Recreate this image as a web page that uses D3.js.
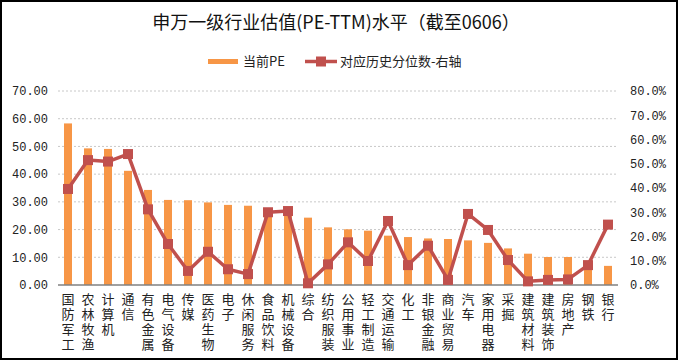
<!DOCTYPE html>
<html>
<head>
<meta charset="utf-8">
<script src="https://cdn.jsdelivr.net/npm/d3@7"></script>
<style>
  body { margin: 0; background: #fff; }
  svg { display: block; }
</style>
</head>
<body>
<div id="chart"></div>
<script>
// chart data
const industries = ["国防军工","农林牧渔","计算机","通信","有色金属","电气设备","传媒","医药生物","电子","休闲服务",
  "食品饮料","机械设备","综合","纺织服装","公用事业","轻工制造","交通运输","化工","非银金融","商业贸易",
  "汽车","家用电器","采掘","建筑材料","建筑装饰","房地产","钢铁","银行"];
const peValues = [58.3,49.3,49.1,41.2,34.3,30.7,30.6,29.8,28.9,28.6,
  27.0,26.5,24.3,20.8,20.1,19.6,17.8,17.3,16.8,16.6,
  16.1,15.2,13.2,11.3,10.1,10.1,8.5,6.9];
const pctValues = [39.6,51.5,50.9,54.0,31.2,16.9,5.8,13.7,6.5,4.5,
  30.0,30.5,0.7,8.5,17.6,9.9,26.4,8.2,16.2,2.1,
  29.3,22.7,10.3,1.5,2.1,2.3,8.2,24.9];
const leftTicks = [0,10,20,30,40,50,60,70];
const rightTicks = [0,10,20,30,40,50,60,70,80];

const svgWidth = 679;
const svgHeight = 362;
const plot = {left: 58, right: 618, top: 91, bottom: 285};

const barColor = "#F79646";
const lineColor = "#C0504D";
const monoFont = "'Liberation Mono', 'DejaVu Sans Mono', monospace";
const cjkFont = "'Noto Sans CJK SC', sans-serif";

let svg = d3.select("#chart")
  .append("svg")
  .attr("width", svgWidth)
  .attr("height", svgHeight);

svg.append("rect")
  .attr("x", 0).attr("y", 0)
  .attr("width", svgWidth).attr("height", svgHeight)
  .attr("fill", "#fff");

// scales
const x = d3.scaleBand()
  .domain(industries)
  .range([plot.left, plot.right])
  .paddingInner(0.6)
  .paddingOuter(0.3);

const yLeft = d3.scaleLinear().domain([0, 70]).range([plot.bottom, plot.top]);
const yRight = d3.scaleLinear().domain([0, 80]).range([plot.bottom, plot.top]);

// gridlines
svg.append("g")
  .selectAll("line")
  .data(leftTicks.filter(d => d > 0))
  .enter()
  .append("line")
  .attr("x1", plot.left).attr("x2", plot.right)
  .attr("y1", d => yLeft(d)).attr("y2", d => yLeft(d))
  .attr("stroke", "#c8c8c8")
  .attr("stroke-width", 1)
  .attr("stroke-dasharray", "2,2");

// left axis
const leftAxis = svg.append("g")
  .attr("transform", `translate(${plot.left}, 0)`)
  .call(d3.axisLeft(yLeft).tickValues(leftTicks).tickSize(0).tickPadding(10).tickFormat(d3.format(".2f")));
leftAxis.select(".domain").remove();
leftAxis.selectAll("text")
  .attr("font-family", monoFont)
  .attr("font-size", "12px")
  .attr("fill", "#222");

// right axis
const rightAxis = svg.append("g")
  .attr("transform", `translate(${plot.right}, 0)`)
  .call(d3.axisRight(yRight).tickValues(rightTicks).tickSize(0).tickPadding(12).tickFormat(d => d.toFixed(1) + "%"));
rightAxis.select(".domain").remove();
rightAxis.selectAll("text")
  .attr("font-family", monoFont)
  .attr("font-size", "12px")
  .attr("fill", "#222");

// bars
svg.append("g")
  .selectAll("rect")
  .data(industries)
  .enter()
  .append("rect")
  .attr("x", d => x(d))
  .attr("width", x.bandwidth())
  .attr("y", (d, i) => yLeft(peValues[i]))
  .attr("height", (d, i) => plot.bottom - yLeft(peValues[i]))
  .attr("fill", barColor);

// x axis line
svg.append("line")
  .attr("x1", plot.left).attr("x2", plot.right)
  .attr("y1", plot.bottom).attr("y2", plot.bottom)
  .attr("stroke", "#808080")
  .attr("stroke-width", 1.5);

// percentile line
const cx = d => x(d) + x.bandwidth() / 2;
const line = d3.line()
  .x((d, i) => cx(industries[i]))
  .y(d => yRight(d));

svg.append("path")
  .datum(pctValues)
  .attr("d", line)
  .attr("fill", "none")
  .attr("stroke", lineColor)
  .attr("stroke-width", 3.5)
  .attr("stroke-linejoin", "round");

svg.append("g")
  .selectAll("rect")
  .data(pctValues)
  .enter()
  .append("rect")
  .attr("x", (d, i) => cx(industries[i]) - 5)
  .attr("y", d => yRight(d) - 5)
  .attr("width", 10)
  .attr("height", 10)
  .attr("fill", lineColor);

// category labels written top to bottom
svg.append("g")
  .selectAll("text")
  .data(industries)
  .enter()
  .append("text")
  .attr("x", d => cx(d))
  .attr("y", 293)
  .attr("style", "writing-mode: vertical-rl; letter-spacing: 2px")
  .attr("font-family", cjkFont)
  .attr("font-size", "13px")
  .attr("fill", "#222")
  .text(d => d);

// title
svg.append("text")
  .attr("x", 336)
  .attr("y", 29)
  .attr("text-anchor", "middle")
  .attr("font-family", cjkFont)
  .attr("font-size", "18px")
  .attr("fill", "#111")
  .text("申万一级行业估值(PE-TTM)水平（截至0606）");

// legend
const legend = svg.append("g");
legend.append("rect")
  .attr("x", 208).attr("y", 59)
  .attr("width", 30).attr("height", 5)
  .attr("fill", barColor);
legend.append("text")
  .attr("x", 243).attr("y", 66)
  .attr("font-family", cjkFont)
  .attr("font-size", "13px")
  .attr("fill", "#222")
  .text("当前PE");
legend.append("line")
  .attr("x1", 305).attr("x2", 337)
  .attr("y1", 61.5).attr("y2", 61.5)
  .attr("stroke", lineColor)
  .attr("stroke-width", 3.5);
legend.append("rect")
  .attr("x", 316).attr("y", 56.5)
  .attr("width", 10).attr("height", 10)
  .attr("fill", lineColor);
legend.append("text")
  .attr("x", 340).attr("y", 66)
  .attr("font-family", cjkFont)
  .attr("font-size", "13px")
  .attr("fill", "#222")
  .text("对应历史分位数-右轴");

// outer frame
svg.append("rect")
  .attr("x", 1).attr("y", 1)
  .attr("width", 676).attr("height", 358)
  .attr("fill", "none")
  .attr("stroke", "#000")
  .attr("stroke-width", 2);
</script>
</body>
</html>
